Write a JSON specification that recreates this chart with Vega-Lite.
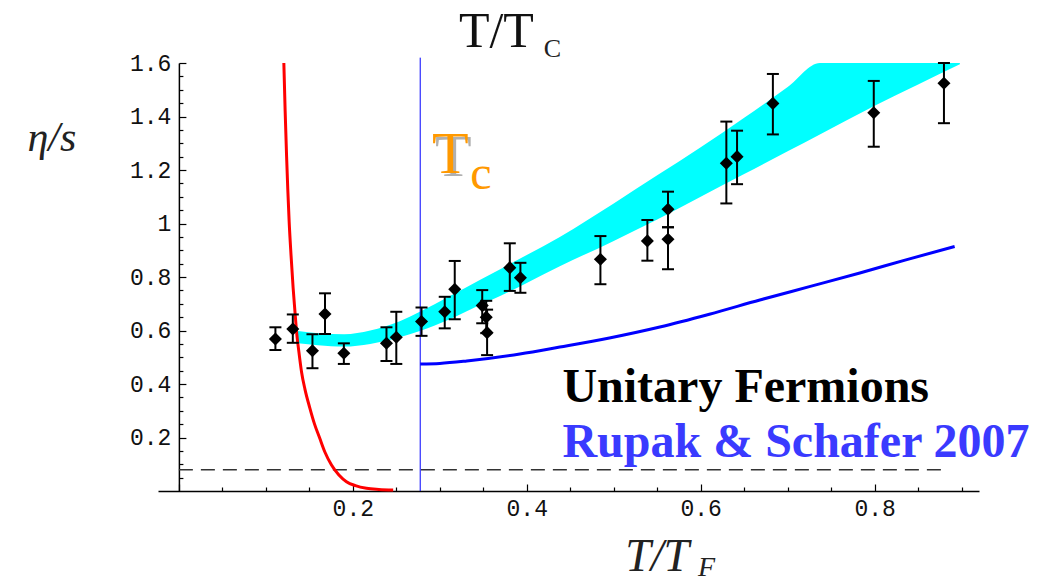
{
  "$schema": "https://vega.github.io/schema/vega-lite/v6.json",
  "autosize": "none",
  "width": 821,
  "height": 428,
  "padding": {"left": 158, "top": 63, "right": 69, "bottom": 91},
  "background": "white",
  "config": {"view": {"stroke": null}},
  "datasets": {
    "pts": [
      {"x": 0.111, "y": 0.568, "lo": 0.527, "hi": 0.612},
      {"x": 0.131, "y": 0.606, "lo": 0.554, "hi": 0.660},
      {"x": 0.1536, "y": 0.524, "lo": 0.459, "hi": 0.586},
      {"x": 0.168, "y": 0.662, "lo": 0.587, "hi": 0.739},
      {"x": 0.1897, "y": 0.515, "lo": 0.475, "hi": 0.552},
      {"x": 0.2387, "y": 0.552, "lo": 0.486, "hi": 0.612},
      {"x": 0.250, "y": 0.575, "lo": 0.475, "hi": 0.670},
      {"x": 0.279, "y": 0.634, "lo": 0.580, "hi": 0.686},
      {"x": 0.3057, "y": 0.670, "lo": 0.608, "hi": 0.726},
      {"x": 0.3172, "y": 0.754, "lo": 0.642, "hi": 0.860},
      {"x": 0.3488, "y": 0.693, "lo": 0.627, "hi": 0.751},
      {"x": 0.3534, "y": 0.650, "lo": 0.590, "hi": 0.711},
      {"x": 0.3544, "y": 0.592, "lo": 0.508, "hi": 0.678},
      {"x": 0.3805, "y": 0.835, "lo": 0.748, "hi": 0.926},
      {"x": 0.3927, "y": 0.797, "lo": 0.741, "hi": 0.853},
      {"x": 0.4847, "y": 0.866, "lo": 0.773, "hi": 0.953},
      {"x": 0.5387, "y": 0.935, "lo": 0.861, "hi": 1.013},
      {"x": 0.5624, "y": 1.053, "lo": 0.986, "hi": 1.119},
      {"x": 0.5624, "y": 0.941, "lo": 0.829, "hi": 0.986},
      {"x": 0.6295, "y": 1.225, "lo": 1.075, "hi": 1.381},
      {"x": 0.6418, "y": 1.250, "lo": 1.147, "hi": 1.347},
      {"x": 0.683, "y": 1.449, "lo": 1.333, "hi": 1.559},
      {"x": 0.799, "y": 1.414, "lo": 1.287, "hi": 1.533},
      {"x": 0.8797, "y": 1.524, "lo": 1.375, "hi": 1.600}
    ],
    "band": [
      {"x": 0.137, "lo": 0.552, "hi": 0.598},
      {"x": 0.16, "lo": 0.545, "hi": 0.590},
      {"x": 0.19, "lo": 0.540, "hi": 0.586},
      {"x": 0.22, "lo": 0.550, "hi": 0.600},
      {"x": 0.254, "lo": 0.575, "hi": 0.635},
      {"x": 0.277, "lo": 0.598, "hi": 0.670},
      {"x": 0.31, "lo": 0.640, "hi": 0.726},
      {"x": 0.346, "lo": 0.695, "hi": 0.789},
      {"x": 0.37, "lo": 0.730, "hi": 0.830},
      {"x": 0.40, "lo": 0.778, "hi": 0.882},
      {"x": 0.438, "lo": 0.840, "hi": 0.950},
      {"x": 0.5, "lo": 0.935, "hi": 1.075},
      {"x": 0.55, "lo": 1.015, "hi": 1.180},
      {"x": 0.6, "lo": 1.100, "hi": 1.285},
      {"x": 0.65, "lo": 1.185, "hi": 1.395},
      {"x": 0.7, "lo": 1.270, "hi": 1.510},
      {"x": 0.737, "lo": 1.333, "hi": 1.600},
      {"x": 0.8, "lo": 1.440, "hi": 1.600},
      {"x": 0.85, "lo": 1.520, "hi": 1.600},
      {"x": 0.898, "lo": 1.595, "hi": 1.600}
    ],
    "red": [
      {"x": 0.1207, "y": 1.60}, {"x": 0.1222, "y": 1.42}, {"x": 0.1238, "y": 1.256},
      {"x": 0.1252, "y": 1.13}, {"x": 0.1268, "y": 1.007}, {"x": 0.129, "y": 0.88},
      {"x": 0.1314, "y": 0.758}, {"x": 0.1335, "y": 0.67}, {"x": 0.1353, "y": 0.596},
      {"x": 0.138, "y": 0.52}, {"x": 0.141, "y": 0.446}, {"x": 0.145, "y": 0.38},
      {"x": 0.1506, "y": 0.31}, {"x": 0.156, "y": 0.25}, {"x": 0.162, "y": 0.197},
      {"x": 0.168, "y": 0.145}, {"x": 0.1755, "y": 0.097}, {"x": 0.184, "y": 0.06},
      {"x": 0.1927, "y": 0.035}, {"x": 0.203, "y": 0.02}, {"x": 0.2157, "y": 0.010},
      {"x": 0.23, "y": 0.006}, {"x": 0.2464, "y": 0.004}
    ],
    "blue": [
      {"x": 0.2775, "y": 0.475}, {"x": 0.300, "y": 0.477}, {"x": 0.331, "y": 0.486},
      {"x": 0.392, "y": 0.512}, {"x": 0.438, "y": 0.538}, {"x": 0.495, "y": 0.572},
      {"x": 0.553, "y": 0.613}, {"x": 0.610, "y": 0.661}, {"x": 0.668, "y": 0.714},
      {"x": 0.725, "y": 0.764}, {"x": 0.783, "y": 0.815}, {"x": 0.836, "y": 0.864},
      {"x": 0.892, "y": 0.914}
    ]
  },
  "encoding": {
    "x": {
      "type": "quantitative",
      "scale": {"domain": [-0.024, 0.92], "nice": false, "zero": false},
      "axis": {
        "title": null,
        "grid": false,
        "values": [0, 0.05, 0.1, 0.15, 0.2, 0.25, 0.3, 0.35, 0.4, 0.45, 0.5, 0.55, 0.6, 0.65, 0.7, 0.75, 0.8, 0.85, 0.9],
        "labelExpr": "(datum.value > 0.01 && abs(datum.value*5 - round(datum.value*5)) < 0.001) ? format(datum.value, '.1f') : ''",
        "labelFont": "Liberation Mono",
        "labelFontSize": 23,
        "labelColor": "#111111",
        "labelPadding": 13,
        "labelFlush": false,
        "labelOverlap": false,
        "labelBound": false,
        "tickColor": "black",
        "tickWidth": 1.2,
        "tickSize": {"condition": {"test": "abs(datum.value*5 - round(datum.value*5)) < 0.001", "value": -7}, "value": -4},
        "domainColor": "black",
        "domainWidth": 1.5
      }
    },
    "y": {
      "type": "quantitative",
      "scale": {"domain": [0, 1.6], "nice": false, "zero": false},
      "axis": {
        "title": null,
        "grid": false,
        "offset": -20.9,
        "values": [0.05, 0.1, 0.15, 0.2, 0.25, 0.3, 0.35, 0.4, 0.45, 0.5, 0.55, 0.6, 0.65, 0.7, 0.75, 0.8, 0.85, 0.9, 0.95, 1, 1.05, 1.1, 1.15, 1.2, 1.25, 1.3, 1.35, 1.4, 1.45, 1.5, 1.55, 1.6],
        "labelExpr": "(abs(datum.value*5 - round(datum.value*5)) < 0.001) ? format(datum.value, '~g') : ''",
        "labelFont": "Liberation Mono",
        "labelFontSize": 23,
        "labelColor": "#111111",
        "labelPadding": 15,
        "labelFlush": false,
        "labelOverlap": false,
        "labelBound": false,
        "tickColor": "black",
        "tickWidth": 1.2,
        "tickSize": {"condition": {"test": "abs(datum.value*5 - round(datum.value*5)) < 0.001", "value": -7}, "value": -4},
        "domainColor": "black",
        "domainWidth": 1.5
      }
    }
  },
  "layer": [
    {
      "data": {"name": "band"},
      "mark": {"type": "area", "color": "#00FFFF", "interpolate": "monotone"},
      "encoding": {"x": {"field": "x", "type": "quantitative"}, "y": {"field": "lo", "type": "quantitative"}, "y2": {"field": "hi"}}
    },
    {
      "data": {"values": [{"name": "KSS bound 1/4pi"}]},
      "mark": {"type": "rule", "color": "#333333", "strokeWidth": 1.6, "strokeDash": [14, 8]},
      "encoding": {"x": {"datum": 0}, "x2": {"datum": 0.88}, "y": {"datum": 0.0796}}
    },
    {
      "data": {"name": "red"},
      "mark": {"type": "line", "color": "#FF0000", "strokeWidth": 3, "interpolate": "monotone"},
      "encoding": {"x": {"field": "x", "type": "quantitative"}, "y": {"field": "y", "type": "quantitative"}}
    },
    {
      "data": {"name": "blue"},
      "mark": {"type": "line", "color": "#0000FF", "strokeWidth": 3, "interpolate": "monotone"},
      "encoding": {"x": {"field": "x", "type": "quantitative"}, "y": {"field": "y", "type": "quantitative"}}
    },
    {
      "data": {"values": [{"name": "Tc"}]},
      "mark": {"type": "rule", "color": "#0000FF", "strokeWidth": 1},
      "encoding": {"x": {"datum": 0.2775}, "y": {"datum": 0}, "y2": {"datum": 1.62}}
    },
    {
      "data": {"name": "pts"},
      "mark": {"type": "rule", "color": "black", "strokeWidth": 2},
      "encoding": {"x": {"field": "x", "type": "quantitative"}, "y": {"field": "lo", "type": "quantitative"}, "y2": {"field": "hi"}}
    },
    {
      "data": {"name": "pts"},
      "mark": {"type": "tick", "orient": "horizontal", "color": "black", "size": 12, "thickness": 2, "opacity": 1},
      "encoding": {"x": {"field": "x", "type": "quantitative"}, "y": {"field": "lo", "type": "quantitative"}}
    },
    {
      "data": {"name": "pts"},
      "mark": {"type": "tick", "orient": "horizontal", "color": "black", "size": 12, "thickness": 2, "opacity": 1},
      "encoding": {"x": {"field": "x", "type": "quantitative"}, "y": {"field": "hi", "type": "quantitative"}}
    },
    {
      "data": {"name": "pts"},
      "mark": {"type": "point", "shape": "diamond", "filled": true, "color": "black", "size": 170, "opacity": 1},
      "encoding": {"x": {"field": "x", "type": "quantitative"}, "y": {"field": "y", "type": "quantitative"}}
    },
    {
      "data": {"values": [{"t": "T/T"}]},
      "mark": {"type": "text", "font": "Liberation Serif", "fontSize": 50, "align": "left", "baseline": "alphabetic", "color": "#111111"},
      "encoding": {"x": {"datum": 0.322}, "y": {"datum": 1.66}, "text": {"field": "t"}}
    },
    {
      "data": {"values": [{"t": "C"}]},
      "mark": {"type": "text", "font": "Liberation Serif", "fontSize": 26, "align": "left", "baseline": "alphabetic", "color": "#222222"},
      "encoding": {"x": {"datum": 0.4195}, "y": {"datum": 1.622}, "text": {"field": "t"}}
    },
    {
      "data": {"values": [{"t": "T"}]},
      "mark": {"type": "text", "font": "Liberation Serif", "fontSize": 60, "align": "left", "baseline": "alphabetic", "color": "#B0B0B0", "dx": 3, "dy": 3},
      "encoding": {"x": {"datum": 0.291}, "y": {"datum": 1.189}, "text": {"field": "t"}}
    },
    {
      "data": {"values": [{"t": "T"}]},
      "mark": {"type": "text", "font": "Liberation Serif", "fontSize": 60, "align": "left", "baseline": "alphabetic", "color": "#FF9900"},
      "encoding": {"x": {"datum": 0.291}, "y": {"datum": 1.189}, "text": {"field": "t"}}
    },
    {
      "data": {"values": [{"t": "c"}]},
      "mark": {"type": "text", "font": "Liberation Serif", "fontSize": 48, "align": "left", "baseline": "alphabetic", "color": "#FF9900"},
      "encoding": {"x": {"datum": 0.335}, "y": {"datum": 1.129}, "text": {"field": "t"}}
    },
    {
      "data": {"values": [{"t": "Unitary Fermions"}]},
      "mark": {"type": "text", "font": "Liberation Serif", "fontSize": 48, "fontWeight": "bold", "align": "left", "baseline": "alphabetic", "color": "#000000"},
      "encoding": {"x": {"datum": 0.441}, "y": {"datum": 0.333}, "text": {"field": "t"}}
    },
    {
      "data": {"values": [{"t": "Rupak & Schafer 2007"}]},
      "mark": {"type": "text", "font": "Liberation Serif", "fontSize": 48, "fontWeight": "bold", "align": "left", "baseline": "alphabetic", "color": "#3A3AFF"},
      "encoding": {"x": {"datum": 0.441}, "y": {"datum": 0.127}, "text": {"field": "t"}}
    },
    {
      "data": {"values": [{"t": "η/s"}]},
      "mark": {"type": "text", "font": "Liberation Serif", "fontSize": 42, "fontStyle": "italic", "align": "center", "baseline": "alphabetic", "color": "#222222"},
      "encoding": {"x": {"datum": -0.146}, "y": {"datum": 1.27}, "text": {"field": "t"}}
    },
    {
      "data": {"values": [{"t": "T/T"}]},
      "mark": {"type": "text", "font": "Liberation Serif", "fontSize": 46, "fontStyle": "italic", "align": "center", "baseline": "alphabetic", "color": "#222222"},
      "encoding": {"x": {"datum": 0.55}, "y": {"datum": -0.3}, "text": {"field": "t"}}
    },
    {
      "data": {"values": [{"t": "F"}]},
      "mark": {"type": "text", "font": "Liberation Serif", "fontSize": 28, "fontStyle": "italic", "align": "left", "baseline": "alphabetic", "color": "#222222"},
      "encoding": {"x": {"datum": 0.597}, "y": {"datum": -0.318}, "text": {"field": "t"}}
    }
  ]
}
